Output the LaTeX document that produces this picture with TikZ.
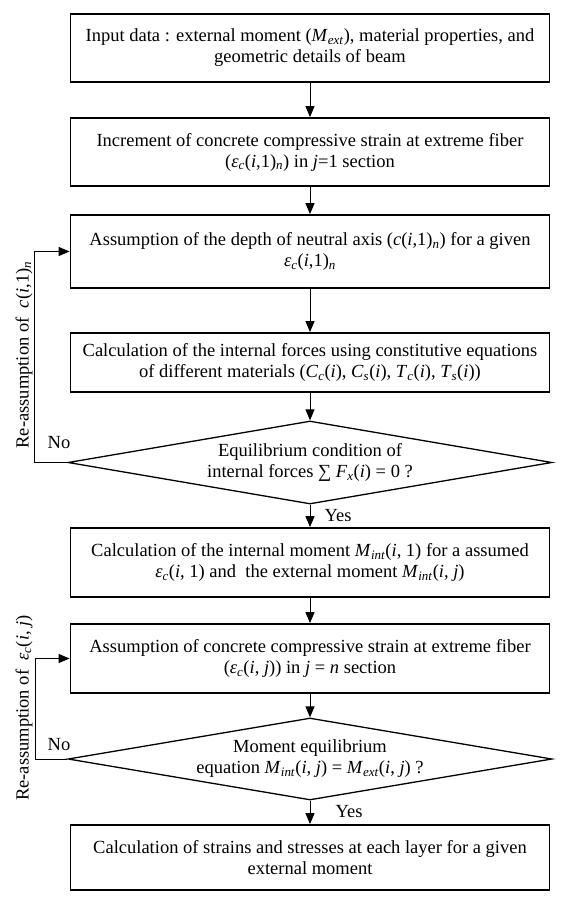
\documentclass[tikz,border=0pt]{standalone}
\usepackage{fontspec}
\setmainfont{Liberation Serif}
\usetikzlibrary{arrows.meta,shapes.geometric}
\newcommand{\vi}[1]{\textit{#1}}
\newcommand{\sbi}[1]{\textsubscript{\textit{#1}}}
\begin{document}
\begin{tikzpicture}[x=1pt,y=-1pt,
  txt/.style={font=\fontsize{18.5}{21}\selectfont},
  box/.style={txt,draw,line width=1.8pt,minimum width=479pt,align=center,inner sep=0pt},
  diam/.style={txt,draw,shape=diamond,aspect=5.8,line width=1.3pt,minimum width=484pt,minimum height=83pt,inner sep=0pt,align=center},
  arr/.style={line width=1pt,-{Triangle[length=11pt,width=9pt]}},
  lbl/.style={txt,inner sep=0pt}]
\useasboundingbox (0,0) rectangle (560,900);
\fill[white] (0,0) rectangle (560,900);

\node[box,minimum height=68pt] (b1) at (310,48) {Input data : external moment (\vi{M}\sbi{ext}), material properties, and\\geometric details of beam};
\node[box,minimum height=68pt] (b2) at (310,152) {Increment of concrete compressive strain at extreme fiber\\(\vi{ε}\sbi{c}(\vi{i},1)\sbi{n}) in \vi{j}=1 section};
\node[box,minimum height=73pt] (b3) at (310,251.5) {Assumption of the depth of neutral axis (\vi{c}(\vi{i},1)\sbi{n}) for a given\\\vi{ε}\sbi{c}(\vi{i},1)\sbi{n}};
\node[box,minimum height=59pt] (b4) at (310,362.5) {Calculation of the internal forces using constitutive equations\\of different materials (\vi{C}\sbi{c}(\vi{i}), \vi{C}\sbi{s}(\vi{i}), \vi{T}\sbi{c}(\vi{i}), \vi{T}\sbi{s}(\vi{i}))};
\node[diam] (d1) at (310,462.5) {Equilibrium condition of\\internal forces ∑ \vi{F}\sbi{x}(\vi{i}) = 0 ?};
\node[box,minimum height=69pt] (b5) at (310,562.5) {Calculation of the internal moment \vi{M}\sbi{int}(\vi{i}, 1) for a assumed\\\vi{ε}\sbi{c}(\vi{i}, 1) and \ the external moment \vi{M}\sbi{int}(\vi{i}, \vi{j})};
\node[box,minimum height=69pt] (b6) at (310,658.5) {Assumption of concrete compressive strain at extreme fiber\\(\vi{ε}\sbi{c}(\vi{i}, \vi{j})) in \vi{j} = \vi{n} section};
\node[diam,minimum height=82pt] (d2) at (310,759) {Moment equilibrium\\equation \vi{M}\sbi{int}(\vi{i}, \vi{j}) = \vi{M}\sbi{ext}(\vi{i}, \vi{j}) ?};
\node[box,minimum height=65pt] (b7) at (310,857.5) {Calculation of strains and stresses at each layer for a given\\external moment};

\draw[arr] (b1) -- (b2);
\draw[arr] (b2) -- (b3);
\draw[arr] (b3) -- (b4);
\draw[arr] (b4) -- (d1);
\draw[arr] (d1) -- (b5);
\draw[arr] (b5) -- (b6);
\draw[arr] (b6) -- (d2);
\draw[arr] (d2) -- (b7);

\draw[arr] (d1.west) -- ++(-33,0) |- (b3.west);
\draw[arr] (d2.west) -- ++(-32,0) |- (b6.west);

\node[lbl] (n1) at (59,443) {No};
\node[lbl] (n2) at (59,745) {No};
\node[lbl] (y1) at (338,516) {Yes};
\node[lbl] (y2) at (349,812) {Yes};
\node[lbl,rotate=90] (r1) at (24,355) {Re-assumption of \ \vi{c}(\vi{i},1)\sbi{n}};
\node[lbl,rotate=90] (r2) at (24,708) {Re-assumption of \ \vi{ε}\sbi{c}(\vi{i}, \vi{j})};
\end{tikzpicture}
\end{document}
